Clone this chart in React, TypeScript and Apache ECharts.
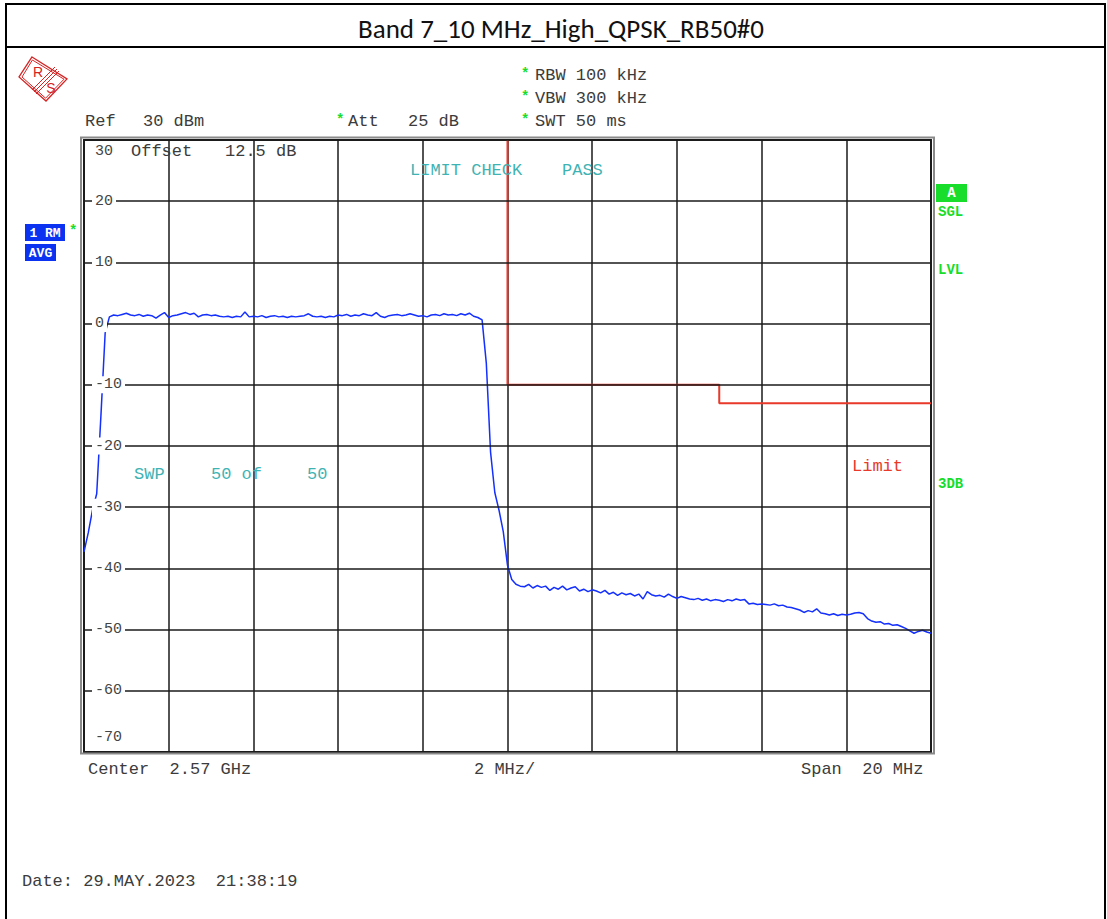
import React, { useEffect, useRef } from "react";
import * as echarts from "echarts";

// Sweep: 2.56 GHz .. 2.58 GHz (Center 2.57 GHz, Span 20 MHz), one reading every 0.1 MHz
const sweepStartMHz = 2560;
const sweepStepMHz = 0.1;

// Trace 1 (RM AVG), dBm
const traceLevels: number[] = [
  -37.3, -34.2, -30.5, -27.8, -15.0, -1.5,
  1.1, 1.4, 1.3, 1.5, 1.7, 1.4, 1.3, 1.5, 1.2, 1.4,
  1.3, 0.9, 1.4, 1.8, 1.0, 1.3, 1.4, 1.6, 1.8, 1.5,
  1.7, 1.1, 1.4, 1.5, 1.3, 1.4, 1.2, 1.1, 1.2, 1.0,
  1.2, 1.1, 1.9, 1.1, 1.2, 1.1, 1.3, 1.0, 1.2, 1.3,
  1.1, 1.2, 1.0, 1.2, 1.1, 1.2, 1.3, 1.6, 1.2, 1.1,
  1.2, 1.0, 1.2, 1.1, 1.4, 1.3, 1.5, 1.2, 1.4, 1.3,
  1.6, 1.4, 1.3, 1.8, 1.2, 1.0, 1.3, 1.4, 1.5, 1.3,
  1.4, 1.6, 1.4, 1.2, 1.3, 1.1, 1.4, 1.5, 1.3, 1.6,
  1.4, 1.5, 1.3, 1.6, 1.4, 1.7, 1.2, 1.0,
  0.6, -6.5, -21.0, -27.6, -30.5, -34.0, -39.5, -41.8, -42.6,
  -42.9, -43.0, -42.6, -43.2, -42.8, -43.1, -42.9, -43.6, -43.1, -43.4,
  -42.9, -43.5, -43.2, -43.0, -43.7, -43.4, -43.8, -43.5, -43.7, -44.0,
  -43.6, -44.2, -43.9, -44.4, -44.0, -44.3, -44.1, -44.5, -44.2, -45.0,
  -43.8, -44.3, -44.5, -44.4, -44.7, -44.2, -44.6, -44.9, -44.6, -44.8,
  -45.0, -45.1, -44.9, -45.2, -45.0, -45.3, -45.1, -45.2, -45.4, -45.1,
  -45.3, -45.0, -45.2, -45.1, -45.8, -45.7, -45.9, -45.8, -45.9, -46.0,
  -45.8, -46.1, -46.0, -46.3, -46.4, -46.6, -46.8, -47.2, -46.9, -47.1,
  -46.6, -47.3, -47.4, -47.6, -47.4, -47.7, -47.5, -47.6, -47.5, -47.3,
  -47.2, -47.4, -48.2, -48.6, -48.8, -48.7, -49.1, -49.0, -49.3, -49.2,
  -49.5, -49.8, -50.2, -50.6, -50.3, -50.1, -50.4, -50.6,
];

// Limit line
const limitFreqsMHz = [2570, 2570, 2575, 2575, 2580];
const limitLevels = [30, -10, -10, -13, -13];

// Axes
const freqMinMHz = 2560;
const freqMaxMHz = 2580;
const freqDivMHz = 2;
const levelMin = -70;
const levelMax = 30;
const levelDiv = 10;

const MONO = '"Courier New", "Liberation Mono", monospace';
const TXT = "#3c3c3c";
const TEAL = "#3fb3b3";
const GREEN = "#18dd2a";
const BLUE = "#0a32f0";
const RED = "#e8392a";
const LOGO = "#d42424";

function txt(x: number, y: number, text: string, fill = TXT, font = `17px ${MONO}`, align = "left") {
  return {
    type: "text",
    x,
    y,
    z: 100,
    style: { text, fill, font, verticalAlign: "middle", align },
  };
}

export default function App() {
  const ref = useRef<HTMLDivElement>(null);

  useEffect(() => {
    if (!ref.current) return;
    const chart = echarts.init(ref.current, undefined, { renderer: "svg" });

    const traceData = traceLevels.map((v, i) => [
      Math.round((sweepStartMHz + i * sweepStepMHz) * 10) / 10,
      v,
    ]);
    const limitData = limitFreqsMHz.map((f, i) => [f, limitLevels[i]]);

    const graphics: any[] = [
      // page frame & title
      { type: "rect", shape: { x: 6, y: 4, width: 1099, height: 930 }, style: { fill: "none", stroke: "#000", lineWidth: 2 } },
      { type: "line", shape: { x1: 6, y1: 47, x2: 1105, y2: 47 }, style: { stroke: "#000", lineWidth: 2 } },
      txt(561, 28, "Band 7_10 MHz_High_QPSK_RB50#0", "#111", '27px Carlito, "Noto Sans", sans-serif', "center"),
      // R&S logo
      { type: "polygon", shape: { points: [[32, 57], [67, 79], [46, 101], [19, 77]] }, style: { fill: "none", stroke: LOGO, lineWidth: 1.3 } },
      { type: "polygon", shape: { points: [[32.4, 60], [64, 79.2], [45.6, 98.2], [22, 77]] }, style: { fill: "none", stroke: LOGO, lineWidth: 1 } },
      { type: "line", shape: { x1: 32, y1: 90, x2: 55, y2: 67 }, style: { stroke: LOGO, lineWidth: 1 } },
      { type: "line", shape: { x1: 34, y1: 92, x2: 57, y2: 69 }, style: { stroke: LOGO, lineWidth: 1 } },
      { type: "line", shape: { x1: 36, y1: 94, x2: 59, y2: 71 }, style: { stroke: LOGO, lineWidth: 1 } },
      txt(38, 72, "R", LOGO, '14px "Liberation Sans", sans-serif', "center"),
      txt(51, 88, "S", LOGO, '14px "Liberation Sans", sans-serif', "center"),
      // header settings
      txt(521, 74, "*", GREEN, `bold 14px ${MONO}`),
      txt(535, 75, "RBW 100 kHz"),
      txt(521, 97, "*", GREEN, `bold 14px ${MONO}`),
      txt(535, 98, "VBW 300 kHz"),
      txt(521, 120, "*", GREEN, `bold 14px ${MONO}`),
      txt(535, 121, "SWT 50 ms"),
      txt(85, 121, "Ref"),
      txt(143, 121, "30 dBm"),
      txt(336, 120, "*", GREEN, `bold 14px ${MONO}`),
      txt(348, 121, "Att"),
      txt(408, 121, "25 dB"),
      // plot frame (outer)
      { type: "rect", shape: { x: 81, y: 137.5, width: 853, height: 616 }, style: { fill: "none", stroke: "#8a8a8a", lineWidth: 2 }, z: 50 },
      // in-plot annotations
      txt(131, 151, "Offset"),
      txt(225, 151, "12.5 dB"),
      txt(410, 170, "LIMIT CHECK", TEAL),
      txt(562, 170, "PASS", TEAL),
      txt(134, 474, "SWP", TEAL),
      txt(211, 474, "50 of", TEAL),
      txt(307, 474, "50", TEAL),
      txt(852, 466, "Limit", RED),
      // left badges
      { type: "rect", shape: { x: 25, y: 224, width: 40, height: 17 }, style: { fill: BLUE }, z: 90 },
      txt(45, 233, "1 RM", "#fff", `bold 13px ${MONO}`, "center"),
      { type: "rect", shape: { x: 25, y: 244, width: 31, height: 17 }, style: { fill: BLUE }, z: 90 },
      txt(40.5, 253, "AVG", "#fff", `bold 13px ${MONO}`, "center"),
      txt(69, 231, "*", GREEN, `bold 14px ${MONO}`),
      // right status
      { type: "rect", shape: { x: 936, y: 184, width: 31, height: 18 }, style: { fill: GREEN }, z: 90 },
      txt(951.5, 193, "A", "#fff", `bold 14px ${MONO}`, "center"),
      txt(938, 212, "SGL", GREEN, `bold 14px ${MONO}`),
      txt(938, 270, "LVL", GREEN, `bold 14px ${MONO}`),
      txt(938, 484, "3DB", GREEN, `bold 14px ${MONO}`),
      // bottom
      txt(88, 769, "Center  2.57 GHz"),
      txt(474, 769, "2 MHz/"),
      txt(801, 769, "Span  20 MHz"),
      txt(22, 881, "Date: 29.MAY.2023  21:38:19"),
    ];

    chart.setOption({
      animation: false,
      backgroundColor: "#fff",
      grid: {
        left: 84,
        right: 1107 - 931,
        top: 140,
        bottom: 919 - 752,
        show: true,
        borderColor: "#222",
        borderWidth: 2,
        backgroundColor: "#fff",
      },
      xAxis: {
        type: "value",
        min: freqMinMHz,
        max: freqMaxMHz,
        interval: freqDivMHz,
        axisLine: { show: false },
        axisTick: { show: false },
        axisLabel: { show: false },
        splitLine: { show: true, lineStyle: { color: "#1a1a1a", width: 1.5 } },
      },
      yAxis: {
        type: "value",
        min: levelMin,
        max: levelMax,
        interval: levelDiv,
        axisLine: { show: false },
        axisTick: { show: false },
        splitLine: { show: true, lineStyle: { color: "#1a1a1a", width: 1.5 } },
        axisLabel: {
          inside: true,
          margin: 8,
          showMinLabel: true,
          showMaxLabel: true,
          color: "#444",
          fontFamily: MONO,
          fontSize: 15,
          formatter: (v: number) =>
            v === levelMax ? `{top|${v}}` : v === levelMin ? `{bot|${v}}` : `{mid|${v}}`,
          rich: {
            mid: { backgroundColor: "#fff", padding: [1, 3, 1, 3], color: "#444", fontFamily: MONO, fontSize: 15 },
            top: { padding: [22, 3, 0, 3], color: "#444", fontFamily: MONO, fontSize: 15 },
            bot: { padding: [0, 3, 30, 3], color: "#444", fontFamily: MONO, fontSize: 15 },
          },
        },
        z: 5,
      },
      series: [
        {
          name: "Limit",
          type: "line",
          data: limitData,
          showSymbol: false,
          lineStyle: { color: RED, width: 2 },
          z: 3,
        },
        {
          name: "1 RM AVG",
          type: "line",
          data: traceData,
          showSymbol: false,
          lineStyle: { color: "#1430ff", width: 1.5 },
          z: 4,
        },
      ],
      graphic: { elements: graphics },
    });

    return () => chart.dispose();
  }, []);

  return (
    <div
      ref={ref}
      style={{ position: "absolute", left: 0, top: 0, width: 1107, height: 919 }}
    />
  );
}
